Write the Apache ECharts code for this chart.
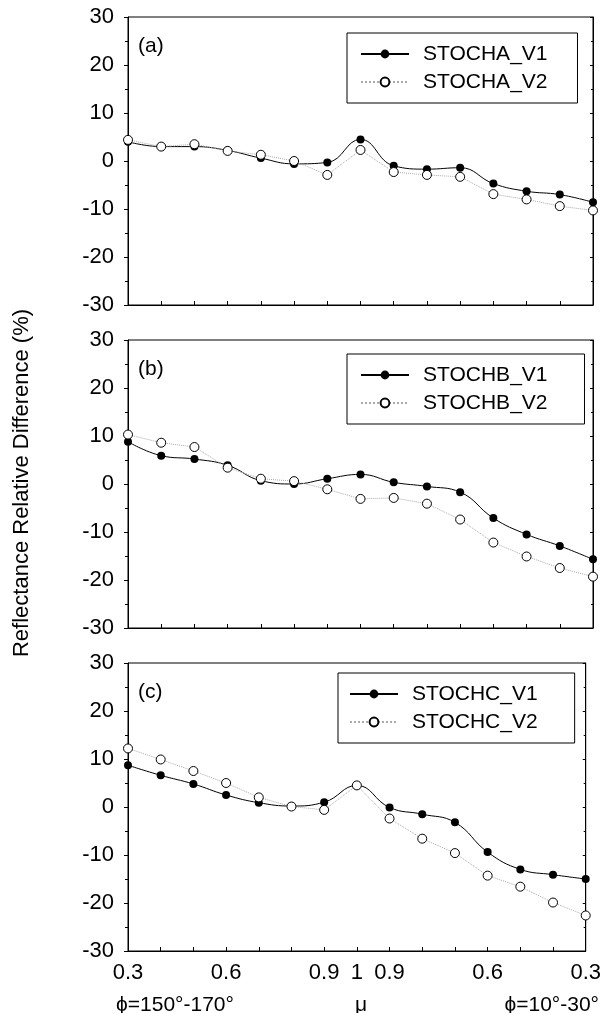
<!DOCTYPE html>
<html>
<head>
<meta charset="utf-8">
<script src="https://cdn.jsdelivr.net/npm/echarts@6/dist/echarts.min.js"></script>
<style>
  html, body { margin: 0; padding: 0; background: #fff; }
  #chart { width: 604px; height: 1013px; }
</style>
</head>
<body>
<div id="chart"></div>
<script>
// mu goes 0.3 -> 1 -> 0.3 across the 15 points
const xTickLabels = ["0.3", "", "", "0.6", "", "", "0.9", "1", "0.9", "", "", "0.6", "", "", "0.3"];
const panelNames = ["(a)", "(b)", "(c)"];
const v1Names = ["STOCHA_V1", "STOCHB_V1", "STOCHC_V1"];
const v2Names = ["STOCHA_V2", "STOCHB_V2", "STOCHC_V2"];

const stochaV1 = [4.0, 3.0, 3.0, 2.2, 0.6, -0.6, -0.3, 4.5, -1.0, -1.7, -1.4, -4.7, -6.3, -7.0, -8.6];
const stochaV2 = [4.4, 3.0, 3.5, 2.1, 1.3, 0.0, -2.9, 2.3, -2.3, -2.9, -3.3, -6.9, -8.0, -9.4, -10.3];
const stochbV1 = [8.8, 5.9, 5.2, 3.9, 0.7, 0.0, 1.1, 2.0, 0.35, -0.5, -1.7, -7.1, -10.5, -12.9, -15.7];
const stochbV2 = [10.3, 8.6, 7.7, 3.4, 1.1, 0.6, -1.1, -3.1, -2.9, -4.1, -7.4, -12.2, -15.1, -17.5, -19.3];
const stochcV1 = [8.7, 6.6, 4.8, 2.5, 0.9, 0.2, 1.0, 4.5, -0.1, -1.5, -3.2, -9.4, -13.0, -14.1, -15.0];
const stochcV2 = [12.2, 9.9, 7.5, 5.0, 2.0, 0.1, -0.6, 4.5, -2.4, -6.6, -9.6, -14.3, -16.6, -19.9, -22.6];

const v1Data = [stochaV1, stochbV1, stochcV1];
const v2Data = [stochaV2, stochbV2, stochcV2];

const font = "Liberation Sans, Arial, Helvetica, sans-serif";
const gridTops = [17, 340, 663];
const gridHeight = 288;
const legendPos = [
  { left: 347, top: 33, padding: [10, 30, 10, 13] },
  { left: 347, top: 354, padding: [10, 37, 10, 13] },
  { left: 338, top: 673, padding: [10, 37, 10, 11] },
];

const chart = echarts.init(document.getElementById("chart"));

const grids = [];
const xAxes = [];
const yAxes = [];
const series = [];
const legends = [];
const titles = [];

for (let i = 0; i < 3; i++) {
  grids.push({
    left: 128,
    right: 11,
    top: gridTops[i],
    height: gridHeight,
    show: true,
    borderColor: "#000",
    borderWidth: 1,
  });
  xAxes.push({
    type: "value",
    gridIndex: i,
    min: 0,
    max: 14,
    interval: 1,
    axisLine: { onZero: false, lineStyle: { color: "#000", width: 1 } },
    axisTick: { inside: true, length: 4, lineStyle: { color: "#000" } },
    splitLine: { show: false },
    axisLabel: {
      show: i === 2,
      color: "#000",
      fontSize: 22,
      fontFamily: font,
      margin: 11,
      showMinLabel: true,
      showMaxLabel: true,
      formatter: (v) => xTickLabels[Math.round(v)] || "",
    },
  });
  // left axis with labels
  yAxes.push({
    type: "value",
    gridIndex: i,
    min: -30,
    max: 30,
    interval: 10,
    axisLine: { onZero: false, lineStyle: { color: "#000", width: 1 } },
    axisTick: { length: 4, lineStyle: { color: "#000" } },
    minorTick: { show: true, splitNumber: 2, length: 3, lineStyle: { color: "#000" } },
    splitLine: { show: false },
    axisLabel: { color: "#000", fontSize: 22, fontFamily: font, margin: 14 },
  });
  // right axis, ticks only
  yAxes.push({
    type: "value",
    gridIndex: i,
    position: "right",
    min: -30,
    max: 30,
    interval: 10,
    axisLine: { onZero: false, lineStyle: { color: "#000", width: 1 } },
    axisTick: { inside: true, length: 3, lineStyle: { color: "#000" } },
    minorTick: { show: true, splitNumber: 2, length: 2, lineStyle: { color: "#000" } },
    splitLine: { show: false },
    axisLabel: { show: false },
  });

  const toPts = (arr) => arr.map((v, k) => [k, v]);

  series.push({
    name: v1Names[i],
    type: "line",
    xAxisIndex: i,
    yAxisIndex: i * 2,
    data: toPts(v1Data[i]),
    smooth: 0.45,
    symbol: "circle",
    symbolSize: 8,
    lineStyle: { color: "#000", width: 1 },
    itemStyle: { color: "#000" },
    z: 2,
  });
  series.push({
    name: v2Names[i],
    type: "line",
    xAxisIndex: i,
    yAxisIndex: i * 2,
    data: toPts(v2Data[i]),
    symbol: "circle",
    symbolSize: 9,
    lineStyle: { color: "#aaa", width: 1, type: "dotted" },
    itemStyle: { color: "#fff", borderColor: "#000", borderWidth: 1 },
    z: 3,
  });

  legends.push({
    data: [v1Names[i], v2Names[i]],
    orient: "vertical",
    left: legendPos[i].left,
    top: legendPos[i].top,
    padding: legendPos[i].padding,
    itemWidth: 48,
    itemHeight: 11,
    itemGap: 6,
    borderColor: "#000",
    borderWidth: 1,
    backgroundColor: "#fff",
    textStyle: {
      color: "#000",
      fontSize: 21,
      fontFamily: font,
      lineHeight: 22,
      padding: [0, 0, 0, 9],
    },
  });

  titles.push({
    text: panelNames[i],
    left: 138,
    top: gridTops[i] + 19,
    padding: 0,
    textStyle: { color: "#000", fontSize: 21, fontWeight: "normal", fontFamily: font },
  });
}

chart.setOption({
  animation: false,
  backgroundColor: "#fff",
  title: titles,
  grid: grids,
  xAxis: xAxes,
  yAxis: yAxes,
  legend: legends,
  series: series,
  graphic: [
    {
      type: "text",
      x: 22,
      y: 483,
      rotation: Math.PI / 2,
      style: {
        text: "Reflectance Relative Difference (%)",
        fill: "#000",
        font: "22px " + font,
        textAlign: "center",
        textVerticalAlign: "middle",
      },
    },
    {
      type: "text",
      x: 116,
      y: 1005,
      style: { text: "ϕ=150°-170°", fill: "#000", font: "21px " + font, textAlign: "left", textVerticalAlign: "middle" },
    },
    {
      type: "text",
      x: 361,
      y: 1005,
      style: { text: "μ", fill: "#000", font: "21px " + font, textAlign: "center", textVerticalAlign: "middle" },
    },
    {
      type: "text",
      x: 599,
      y: 1005,
      style: { text: "ϕ=10°-30°", fill: "#000", font: "21px " + font, textAlign: "right", textVerticalAlign: "middle" },
    },
  ],
});
</script>
</body>
</html>
